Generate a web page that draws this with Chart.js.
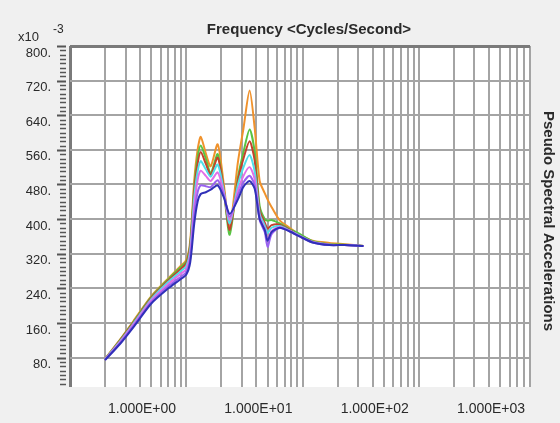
<!DOCTYPE html>
<html>
<head>
<meta charset="utf-8">
<title>Pseudo Spectral Accelerations</title>
<script src="https://cdn.jsdelivr.net/npm/chart.js@4.4.1/dist/chart.umd.min.js"></script>
<style>
    html, body { margin: 0; padding: 0; background: #f0f0f0; }
    #wrap { width: 560px; height: 423px; }
</style>
</head>
<body>
<div id="wrap"><canvas id="spectraChart" width="560" height="423"></canvas></div>
<script>
// frequencies (Hz) the curves are sampled at
const freq = [0.2, 0.27, 0.35, 0.5, 0.7, 0.88, 1.0, 1.08, 1.17, 1.25, 1.33, 1.47, 1.62, 1.86, 2.1, 2.36,
    2.77, 3.1, 3.5, 3.87, 4.27, 4.72, 5.0, 5.4, 6.35, 7.7, 9.4, 12.2, 17, 23, 33.3];

// pseudo spectral accelerations, x10^-3
const blueSeries = [74, 112, 150, 205, 240, 260, 272, 300, 390, 440, 458, 462, 468, 478, 450, 412,
    445, 475, 488, 470, 400, 375, 350, 370, 380, 372, 360, 346, 340, 340, 338];
const violetSeries = [75, 114, 153, 208, 245, 265, 278, 310, 410, 462, 478, 476, 474, 490, 455, 405,
    455, 485, 500, 478, 398, 370, 336, 365, 380, 372, 360, 346, 340, 340, 338];
const magentaSeries = [75, 116, 156, 212, 250, 272, 285, 320, 430, 490, 512, 500, 488, 508, 460, 398,
    465, 500, 520, 492, 405, 378, 352, 372, 382, 373, 361, 347, 341, 340, 338];
const cyanSeries = [76, 118, 158, 215, 255, 278, 292, 330, 450, 510, 534, 515, 498, 526, 465, 390,
    478, 520, 548, 510, 412, 385, 368, 380, 384, 374, 362, 347, 341, 340, 338];
const redSeries = [76, 120, 160, 218, 258, 283, 298, 338, 465, 528, 555, 528, 502, 542, 468, 375,
    488, 540, 580, 535, 420, 392, 378, 386, 387, 375, 362, 347, 341, 340, 338];
const greenSeries = [76, 121, 162, 220, 261, 287, 302, 342, 475, 542, 570, 540, 506, 550, 465, 364,
    495, 555, 607, 555, 430, 400, 396, 398, 390, 377, 366, 349, 342, 341, 338];
const orangeSeries = [77, 122, 164, 222, 263, 290, 306, 350, 490, 560, 590, 552, 522, 573, 480, 382,
    530, 610, 697, 610, 488, 460, 445, 428, 397, 380, 364, 350, 345, 342, 338];

// axis ticks
const yMajorTicks = [80, 160, 240, 320, 400, 480, 560, 640, 720, 800];
const xDecades = [0.1, 1, 10, 100];
const xTickLabels = ['1.000E+00', '1.000E+01', '1.000E+02', '1.000E+03'];

const FONT = "Arial, 'Liberation Sans', sans-serif";

function series(values) {
    return freq.map(function (f, i) { return { x: f, y: values[i] }; });
}

// white plot area, y-axis tick marks and the free texts
const framePlugin = {
    id: 'frame',
    beforeDraw: function (chart) {
        const a = chart.chartArea;
        const c = chart.ctx;
        c.save();
        c.fillStyle = '#ffffff';
        c.fillRect(a.left, a.top, a.right - a.left, a.bottom - a.top);
        c.restore();
    },
    afterDraw: function (chart) {
        const a = chart.chartArea;
        const c = chart.ctx;
        const y = chart.scales.y;
        c.save();
        // minor / major ticks on the value axis
        c.strokeStyle = '#555555';
        for (let v = 20; v <= 800; v += 10) {
            const py = Math.round(y.getPixelForValue(v)) + 0.5;
            const major = yMajorTicks.includes(v);
            c.lineWidth = major ? 2 : 1.5;
            c.beginPath();
            c.moveTo(a.left - (major ? 13 : 10), py);
            c.lineTo(a.left - 4, py);
            c.stroke();
        }
        c.fillStyle = '#2a2a2a';
        c.textBaseline = 'middle';
        c.textAlign = 'center';
        c.font = 'bold 15px ' + FONT;
        c.fillText('Frequency <Cycles/Second>', 309, 30);
        c.textAlign = 'left';
        c.font = '13px ' + FONT;
        c.fillText('x10', 18, 37);
        c.font = '12px ' + FONT;
        c.fillText('-3', 53, 30);
        c.translate(548, 221);
        c.rotate(Math.PI / 2);
        c.textAlign = 'center';
        c.font = 'bold 15px ' + FONT;
        c.fillText('Pseudo Spectral Accelerations', 0, 0);
        c.restore();
    }
};

document.addEventListener("DOMContentLoaded", function () {
    const ctx = document.getElementById('spectraChart').getContext('2d');
    new Chart(ctx, {
        type: 'line',
        data: {
            datasets: [
                { label: 'blue', data: series(blueSeries), borderColor: '#3030b8' },
                { label: 'violet', data: series(violetSeries), borderColor: '#9a62f0' },
                { label: 'magenta', data: series(magentaSeries), borderColor: '#e070e8' },
                { label: 'cyan', data: series(cyanSeries), borderColor: '#50dfe8' },
                { label: 'red', data: series(redSeries), borderColor: '#c4422c' },
                { label: 'green', data: series(greenSeries), borderColor: '#58c442' },
                { label: 'orange', data: series(orangeSeries), borderColor: '#f0922c' }
            ]
        },
        options: {
            responsive: false,
            animation: false,
            datasets: {
                line: { borderWidth: 2, pointRadius: 0, tension: 0.25, fill: false }
            },
            layout: { padding: { top: 46, right: 30, left: 0, bottom: 0 } },
            plugins: {
                legend: { display: false },
                title: { display: false },
                tooltip: { enabled: false }
            },
            scales: {
                x: {
                    type: 'logarithmic',
                    min: 0.1,
                    max: 900,
                    afterFit: function (scale) { scale.height = 36; },
                    afterBuildTicks: function (scale) {
                        const ticks = [];
                        xDecades.forEach(function (d) {
                            for (let k = 1; k <= 9; k++) {
                                ticks.push({ value: Number((k * d).toPrecision(3)) });
                            }
                        });
                        scale.ticks = ticks;
                    },
                    border: { display: false },
                    grid: {
                        drawTicks: false,
                        color: function (c) { return c.tick && c.tick.value === 0.1 ? '#7a7a7a' : '#a4a4a4'; },
                        lineWidth: function (c) { return c.tick && c.tick.value === 0.1 ? 3 : 2; }
                    },
                    ticks: {
                        autoSkip: false,
                        maxRotation: 0,
                        padding: 14,
                        labelOffset: 2,
                        color: '#2a2a2a',
                        font: { family: FONT, size: 14 },
                        // decade labels sit on the 4x line of the decade before
                        callback: function (value) {
                            const i = xDecades.findIndex(function (d) { return Number((4 * d).toPrecision(3)) === value; });
                            return i >= 0 ? xTickLabels[i] : '';
                        }
                    }
                },
                y: {
                    min: 12,
                    max: 800,
                    afterFit: function (scale) { scale.width = 70; },
                    afterBuildTicks: function (scale) {
                        scale.ticks = yMajorTicks.map(function (v) { return { value: v }; });
                    },
                    border: { display: false },
                    grid: {
                        drawTicks: false,
                        color: function (c) { return c.tick && c.tick.value === 800 ? '#7a7a7a' : '#a4a4a4'; },
                        lineWidth: function (c) { return c.tick && c.tick.value === 800 ? 3 : 2; }
                    },
                    ticks: {
                        padding: 19,
                        labelOffset: 7,
                        color: '#2a2a2a',
                        font: { family: FONT, size: 13 },
                        callback: function (value) { return value + '.'; }
                    }
                }
            }
        },
        plugins: [framePlugin]
    });
});
</script>
</body>
</html>
